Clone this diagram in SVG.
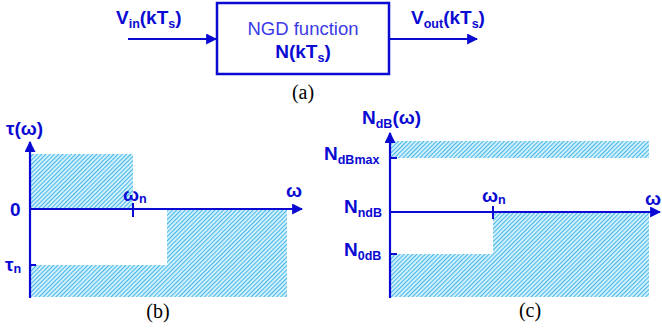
<svg xmlns="http://www.w3.org/2000/svg" width="662" height="330" viewBox="0 0 662 330">
<style>
.ax{stroke:#0a0ad2;stroke-width:2.2;fill:none}
.tk{stroke:#0a0ad2;stroke-width:2;fill:none}
.lb{font-family:"Liberation Sans",Arial,sans-serif;font-weight:bold;fill:#0a0ad2;font-size:19px}
.sb{font-size:12.5px}
.cap{font-family:"Liberation Serif","Times New Roman",serif;font-size:20px;fill:#000}
.hatch{fill:url(#hp)}
</style>
<defs>
<pattern id="hp" width="3" height="3" patternUnits="userSpaceOnUse" patternTransform="rotate(45)">
<rect width="3" height="3" fill="#d8f2fc"/>
<rect width="1.1" height="3" fill="#45b8ea"/>
</pattern>
<marker id="ar" viewBox="0 0 10 10" refX="9" refY="5" markerWidth="5" markerHeight="5" orient="auto" markerUnits="strokeWidth">
<path d="M0,0 L10,5 L0,10 z" fill="#0a0ad2"/>
</marker>
</defs>

<!-- (a) block diagram -->
<g id="connectors">
<line class="ax" x1="128" y1="39" x2="216" y2="39" stroke-width="3" marker-end="url(#ar)"/>
<line class="ax" x1="390" y1="39" x2="477" y2="39" stroke-width="3" marker-end="url(#ar)"/>
</g>
<g id="ngd">
<rect x="217" y="3" width="172" height="71" fill="#fff" stroke="#0a0ad2" stroke-width="2.5"/>
<text x="303" y="35" text-anchor="middle" font-family="Liberation Sans,Arial,sans-serif" font-size="18.5" fill="#3a3ae6">NGD function</text>
<text x="303" y="58" text-anchor="middle" class="lb" font-size="18">N(kT<tspan class="sb" dy="4">s</tspan><tspan dy="-4">)</tspan></text>
</g>
<g id="vin">
<text x="116" y="24" class="lb">V<tspan class="sb" dy="4">in</tspan><tspan dy="-4">(kT</tspan><tspan class="sb" dy="4">s</tspan><tspan dy="-4">)</tspan></text>
</g>
<g id="vout">
<text x="411" y="24" class="lb">V<tspan class="sb" dy="4">out</tspan><tspan dy="-4">(kT</tspan><tspan class="sb" dy="4">s</tspan><tspan dy="-4">)</tspan></text>
</g>
<text x="303" y="99" text-anchor="middle" class="cap">(a)</text>

<!-- (b) -->
<g id="plot-b">
<rect class="hatch" x="30" y="154" width="103" height="55"/>
<path class="hatch" d="M30,265 H167 V209 H287 V297 H30 Z"/>
<line class="ax" x1="30" y1="298" x2="30" y2="142" marker-end="url(#ar)"/>
<line class="ax" x1="30" y1="209" x2="302" y2="209" marker-end="url(#ar)"/>
<line class="tk" x1="133" y1="203" x2="133" y2="217"/>
<line class="tk" x1="30" y1="265" x2="36" y2="265"/>
<text x="6" y="135" class="lb">τ(ω)</text>
<text x="123" y="201" class="lb">ω<tspan class="sb" dy="2">n</tspan></text>
<text x="286" y="197" class="lb">ω</text>
<text x="10" y="216" class="lb">0</text>
<text x="5" y="271" class="lb">τ<tspan class="sb" dy="2">n</tspan></text>
<text x="158" y="318" text-anchor="middle" class="cap">(b)</text>
</g>

<!-- (c) -->
<g id="plot-c">
<rect class="hatch" x="390" y="141" width="259" height="17"/>
<path class="hatch" d="M390,254 H493 V212 H649 V297 H390 Z"/>
<line class="ax" x1="390" y1="298" x2="390" y2="133" marker-end="url(#ar)"/>
<line class="ax" x1="390" y1="212" x2="660" y2="212" marker-end="url(#ar)"/>
<line class="tk" x1="493" y1="206" x2="493" y2="219"/>
<line class="tk" x1="390" y1="158" x2="397" y2="158"/>
<line class="tk" x1="390" y1="254" x2="397" y2="254"/>
<text x="362" y="124" class="lb">N<tspan class="sb" dy="4">dB</tspan><tspan dy="-4">(ω)</tspan></text>
<text x="324" y="160" class="lb">N<tspan class="sb" dy="4">dBmax</tspan></text>
<text x="344" y="213" class="lb">N<tspan class="sb" dy="4">ndB</tspan></text>
<text x="344" y="256" class="lb">N<tspan class="sb" dy="4">0dB</tspan></text>
<text x="482" y="202" class="lb">ω<tspan class="sb" dy="2">n</tspan></text>
<text x="645" y="205" class="lb">ω</text>
<text x="530" y="317" text-anchor="middle" class="cap">(c)</text>
</g>
</svg>
